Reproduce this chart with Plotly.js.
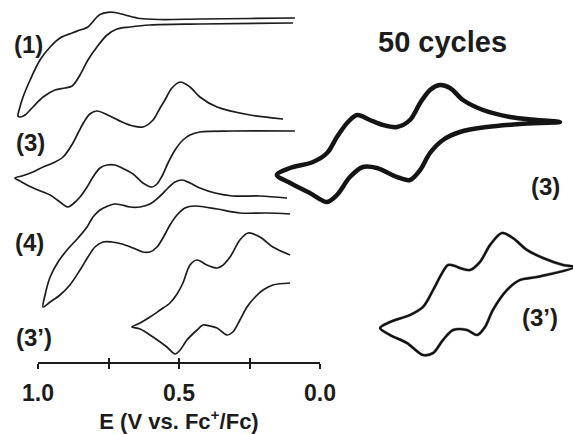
<!DOCTYPE html>
<html>
<head>
<meta charset="utf-8">
<script src="https://cdn.plot.ly/plotly-3.0.1.min.js"></script>
<style>html,body{margin:0;padding:0;background:#fff;}#chart{width:573px;height:434px;}</style>
</head>
<body>
<div id="chart"></div>
<script>
// ---- Data (E in V vs Fc+/Fc, current in arbitrary units with vertical offsets) ----
var e1 = [0.089,0.248,0.426,0.567,0.638,0.691,0.727,0.752,0.780,0.791,0.823,0.851,0.879,0.922,0.957,0.993,1.028,1.053,1.067,1.071,1.064,1.046,1.018,0.982,0.940,0.904,0.879,0.851,0.823,0.791,0.755,0.720,0.674,0.603,0.426,0.096];
var i1 = [18,18.5,19,19.5,18.5,15,12.5,12.3,14.5,17,27,30,33,38,47,60,80,97,110,116,117,115,107,97,90,88,86,75,60,47,35,29,27,25,24,23];

var e3 = [0.131,0.248,0.365,0.426,0.461,0.496,0.525,0.550,0.567,0.592,0.628,0.663,0.702,0.745,0.791,0.816,0.837,0.858,0.876,0.911,0.947,0.982,1.018,1.057,1.082,
          1.064,1.039,1.000,0.957,0.922,0.894,0.876,0.851,0.826,0.805,0.780,0.755,0.727,0.702,0.663,0.628,0.596,0.578,0.560,0.539,0.514,0.486,0.461,0.426,0.309,0.089];
var i3 = [119,115,107,97,87,82,88,100,108,120,127,126,122,116,111,114,122,133,143,157,163,167,172,176,178,
          181,185,190,195,202,207,204,197,187,177,168,165,165,168,174,183,187,184,176,163,150,140,135,132,131,131];

var e4 = [0.117,0.213,0.309,0.372,0.426,0.461,0.489,0.514,0.539,0.567,0.603,0.638,0.674,0.702,0.727,0.752,0.780,0.805,0.826,0.858,0.897,0.929,0.957,0.975,0.982,
          0.957,0.922,0.887,0.851,0.823,0.798,0.770,0.738,0.702,0.663,0.628,0.603,0.578,0.557,0.532,0.507,0.479,0.443,0.365,0.284,0.188,0.106];
var i4 = [198,196,196,193,188,183,180,182,188,196,204,207,207,205,204,206,210,217,227,238,250,262,277,295,307,
          302,295,285,270,257,247,242,242,244,248,252,252,247,238,225,215,208,206,209,213,213,214];

var e3p = [0.106,0.167,0.213,0.255,0.284,0.319,0.348,0.365,0.401,0.436,0.461,0.486,0.507,0.532,0.567,0.603,0.638,0.667,
           0.638,0.592,0.543,0.514,0.496,0.472,0.436,0.415,0.390,0.365,0.330,0.309,0.284,0.259,0.230,0.202,0.167,0.106];
var i3p = [255,247,237,233,240,257,266,268,265,260,265,283,294,303,310,317,323,327,
           329,337,347,354,350,340,330,325,326,328,335,332,320,307,297,290,285,283];

// right panel: 50 cycles of (3) and (3')
var eR3 = [1.082,1.035,0.954,0.904,0.869,0.833,0.798,0.752,0.706,0.656,0.610,0.574,0.539,0.504,0.468,0.422,0.351,0.255,0.160,0.078,
           0.220,0.337,0.433,0.493,0.539,0.574,0.610,0.656,0.727,0.777,0.823,0.869,0.904,0.965,1.035,1.082];
var iR3 = [175,168,162,153,137,123,115,120,125,127,120,103,90,85,88,100,110,117,120,122,
           124,127,132,140,153,170,180,177,168,167,177,195,202,193,183,175];

var eR3p = [0.716,0.681,0.610,0.564,0.528,0.496,0.475,0.450,0.433,0.397,0.362,0.326,0.284,0.245,0.195,0.138,0.067,0.025,
            0.160,0.220,0.266,0.316,0.344,0.372,0.408,0.457,0.493,0.528,0.564,0.621,0.681,0.716];
var iR3p = [328,322,315,307,290,273,265,266,268,270,262,245,233,238,250,258,265,267,
            277,280,290,310,327,335,330,330,340,353,355,343,335,328];

var curveLabels = ["(1)","(3)","(4)","(3’)","(3)","(3’)"];
var headerText = "50 cycles";
var axisTitle = "E (V vs. Fc<sup>+</sup>/Fc)";

// ---- Layout helpers ----
var W = 573, H = 434;
var FONT = "Liberation Sans, Arial, Helvetica, sans-serif";
var ink = "#1c1c1c";
function px2paperX(p){ return p / W; }
function px2paperY(p){ return 1 - p / H; }

function cv(x, y, axis, width, color) {
  return {x:x, y:y, xaxis:axis, yaxis:'y', type:'scatter', mode:'lines',
          line:{color:color || ink, width:width, shape:'spline', smoothing:0.9},
          hoverinfo:'skip', showlegend:false};
}

var traces = [
  cv(e1, i1, 'x', 1.7),
  cv(e3, i3, 'x', 1.7),
  cv(e4, i4, 'x', 1.7),
  cv(e3p, i3p, 'x', 1.7),
  cv(eR3, iR3, 'x2', 4.5, '#141414'),
  cv(eR3p, iR3p, 'x2', 3, '#8a8a8a'),
  cv(eR3p, iR3p, 'x2', 2.2, '#111'),
  {x:[], y:[], xaxis:'x3', yaxis:'y', type:'scatter', mode:'lines', showlegend:false},
  {x:[], y:[], xaxis:'x4', yaxis:'y', type:'scatter', mode:'lines', showlegend:false}
];

var axisY = 362.5;
var hidden = {visible:false, showgrid:false, zeroline:false, fixedrange:true};

var layout = {
  width:W, height:H,
  margin:{l:0,r:0,t:0,b:0},
  paper_bgcolor:'#fff', plot_bgcolor:'rgba(0,0,0,0)',
  showlegend:false,
  font:{family:FONT, color:ink},
  yaxis: Object.assign({}, hidden, {domain:[0,1], range:[H,0]}),
  xaxis: Object.assign({}, hidden, {domain:[0,1], range:[320/282, (320-W)/282]}),
  xaxis2: Object.assign({}, hidden, {overlaying:'x', range:[582/282, (582-W)/282]}),
  xaxis3: {
    domain:[38/W, 320/W], range:[1.0, 0.0], anchor:'free', position:px2paperY(axisY),
    showgrid:false, zeroline:false, showline:true, linecolor:ink, linewidth:2,
    ticks:'outside', ticklen:5, tickwidth:2, tickcolor:ink,
    tickmode:'linear', tick0:0, dtick:0.5, tickformat:'.1f',
    minor:{tick0:0, dtick:0.25, ticks:'outside', ticklen:5, tickwidth:2, tickcolor:ink, showgrid:false},
    ticklabelstandoff:5,
    tickfont:{family:FONT, size:23, weight:'bold', color:ink},
    title:{text:axisTitle, font:{family:FONT, size:22, weight:'bold', color:ink}, standoff:7},
    fixedrange:true
  },
  xaxis4: {
    overlaying:'x3', range:[1.0, 0.0], anchor:'free', position:px2paperY(axisY),
    showgrid:false, zeroline:false, showline:false,
    ticks:'inside', ticklen:5, tickwidth:2, tickcolor:ink,
    tickmode:'linear', tick0:0, dtick:0.25, showticklabels:false, fixedrange:true
  },
  annotations: []
};

var labelPos = [[28,44],[30,142],[29,242],[34,337],[545,187],[540,317]];
for (var k=0; k<curveLabels.length; k++) {
  layout.annotations.push({text:curveLabels[k], xref:'paper', yref:'paper',
    x:px2paperX(labelPos[k][0]), y:px2paperY(labelPos[k][1]), xanchor:'center', yanchor:'middle',
    showarrow:false, font:{family:FONT, size:24, weight:'bold', color:ink}});
}
layout.annotations.push({text:headerText, xref:'paper', yref:'paper',
  x:px2paperX(443), y:px2paperY(42), xanchor:'center', yanchor:'middle',
  showarrow:false, font:{family:FONT, size:29, weight:'bold', color:ink}});

Plotly.newPlot('chart', traces, layout, {displayModeBar:false, staticPlot:true});
</script>
</body>
</html>
